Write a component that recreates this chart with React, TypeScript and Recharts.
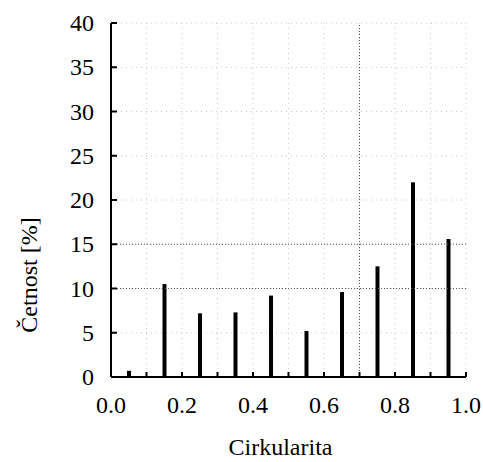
import React from 'react';
import {
  BarChart, Bar, XAxis, YAxis, CartesianGrid, ReferenceLine, Label
} from 'recharts';

// Histogram classes (bin centres) and frequencies in %
const binCenters = [0.05, 0.15, 0.25, 0.35, 0.45, 0.55, 0.65, 0.75, 0.85, 0.95];
const frequency = [0.7, 10.5, 7.2, 7.3, 9.2, 5.2, 9.6, 12.5, 22.0, 15.6];

const xTicks = [0, 0.1, 0.2, 0.3, 0.4, 0.5, 0.6, 0.7, 0.8, 0.9, 1.0];
const yTicks = [0, 5, 10, 15, 20, 25, 30, 35, 40];

const data = binCenters.map((c, i) => ({ c, f: frequency[i] }));

const FONT = 'Liberation Serif, DejaVu Serif, serif';
const textStyle = { fontFamily: FONT };

const BottomTick = (props: any) => {
  const { x, y, payload, index } = props;
  return (
    <g>
      <line x1={x} y1={y} x2={x} y2={y - 5} stroke="#000" strokeWidth={2} />
      {index % 2 === 0 && (
        <text x={x} y={y + 36} textAnchor="middle" fontSize={24} style={textStyle} fill="#000">
          {payload.value.toFixed(1)}
        </text>
      )}
    </g>
  );
};

const TopTick = (props: any) => {
  const { x, y } = props;
  return <line x1={x} y1={y} x2={x} y2={y + 5} stroke="#000" strokeWidth={2} />;
};

const LeftTick = (props: any) => {
  const { x, y, payload } = props;
  return (
    <g>
      <line x1={x} y1={y} x2={x + 6} y2={y} stroke="#000" strokeWidth={2} />
      <text x={x - 17} y={y + 8} textAnchor="end" fontSize={24} style={textStyle} fill="#000">
        {payload.value}
      </text>
    </g>
  );
};

const RightTick = (props: any) => {
  const { x, y } = props;
  return <line x1={x} y1={y} x2={x - 6} y2={y} stroke="#000" strokeWidth={2} />;
};

const YTitle = (props: any) => {
  const { viewBox } = props;
  const cy = viewBox.y + viewBox.height / 2 + 75;
  return (
    <text x={37} y={cy} transform={`rotate(-90, 37, ${cy})`} textAnchor="middle" fontSize={24} style={textStyle} fill="#000">
      Četnost [%]
    </text>
  );
};

const XTitle = (props: any) => {
  const { viewBox } = props;
  const cx = viewBox.x + viewBox.width / 2 - 8;
  return (
    <text x={cx} y={455} textAnchor="middle" fontSize={24} style={textStyle} fill="#000">
      Cirkularita
    </text>
  );
};

export default function App() {
  return (
    <div style={{ position: 'absolute', left: 0, top: 0, background: '#fff' }}>
      <BarChart
        width={483}
        height={462}
        data={data}
        margin={{ top: 23, right: 17, bottom: 0, left: 0 }}
        barSize={4}
      >
        <CartesianGrid
          stroke="#c8c8c8"
          strokeDasharray="1 4"
          horizontalValues={yTicks}
          verticalValues={xTicks}
        />
        <XAxis
          dataKey="c"
          type="number"
          domain={[0, 1]}
          ticks={xTicks}
          interval={0}
          tickSize={0}
          tickMargin={0}
          tick={<BottomTick />}
          axisLine={{ stroke: '#000', strokeWidth: 2 }}
          tickLine={false}
          height={85}
        >
          <Label content={<XTitle />} />
        </XAxis>
        <XAxis
          xAxisId="top"
          orientation="top"
          type="number"
          domain={[0, 1]}
          ticks={xTicks}
          interval={0}
          tickSize={0}
          tickMargin={0}
          tick={<TopTick />}
          axisLine={{ stroke: '#000', strokeWidth: 2 }}
          tickLine={false}
          height={0}
        />
        <YAxis
          type="number"
          domain={[0, 40]}
          ticks={yTicks}
          interval={0}
          tickSize={0}
          tickMargin={0}
          tick={<LeftTick />}
          axisLine={{ stroke: '#000', strokeWidth: 2 }}
          tickLine={false}
          width={111}
        >
          <Label content={<YTitle />} />
        </YAxis>
        <YAxis
          yAxisId="right"
          orientation="right"
          type="number"
          domain={[0, 40]}
          ticks={yTicks}
          interval={0}
          tickSize={0}
          tickMargin={0}
          tick={<RightTick />}
          axisLine={{ stroke: '#000', strokeWidth: 2 }}
          tickLine={false}
          width={0}
        />
        <ReferenceLine y={10} stroke="#555" strokeDasharray="1 2" />
        <ReferenceLine y={15} stroke="#555" strokeDasharray="1 2" />
        <ReferenceLine x={0.7} stroke="#555" strokeDasharray="1 2" />
        <Bar dataKey="f" fill="#000" isAnimationActive={false} />
      </BarChart>
    </div>
  );
}
